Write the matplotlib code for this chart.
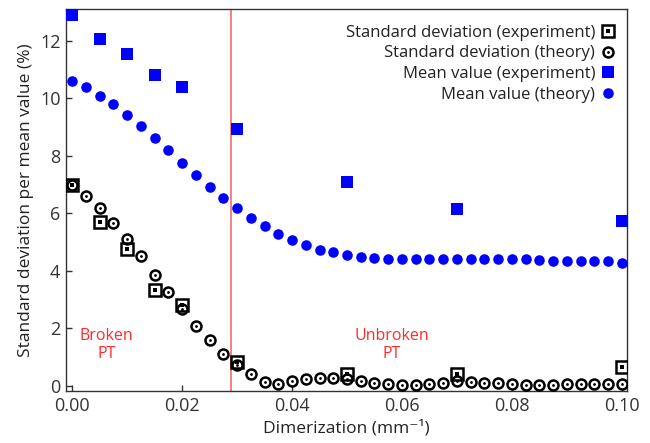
import matplotlib
matplotlib.use('Agg')
import matplotlib.pyplot as plt

plt.rcParams['font.family'] = ['Open Sans', 'DejaVu Sans']

# experiment points
x_exp = [0.0, 0.005, 0.01, 0.015, 0.02, 0.03, 0.05, 0.07, 0.1]
mean_exp = [12.9, 12.08, 11.56, 10.82, 10.4, 8.95, 7.1, 6.14, 5.73]
std_exp = [7.0, 5.70, 4.77, 3.32, 2.81, 0.84, 0.40, 0.40, 0.65]

# theory points, every 0.0025
x_th = [i * 0.0025 for i in range(41)]
mean_th = [10.59, 10.39, 10.10, 9.79, 9.43, 9.03, 8.63, 8.19, 7.76, 7.33,
           6.92, 6.54, 6.17, 5.84, 5.57, 5.29, 5.07, 4.89, 4.74, 4.64,
           4.55, 4.48, 4.43, 4.42, 4.41, 4.41, 4.41, 4.41, 4.41, 4.41,
           4.41, 4.41, 4.41, 4.40, 4.38, 4.36, 4.36, 4.34, 4.33, 4.33, 4.29]
std_th = [6.98, 6.61, 6.19, 5.68, 5.11, 4.51, 3.87, 3.27, 2.66, 2.08,
          1.58, 1.11, 0.71, 0.41, 0.15, 0.05, 0.16, 0.24, 0.28, 0.26,
          0.25, 0.17, 0.10, 0.07, 0.02, 0.04, 0.07, 0.10, 0.16, 0.13,
          0.10, 0.09, 0.06, 0.04, 0.02, 0.02, 0.05, 0.06, 0.07, 0.07, 0.06]

pt_boundary = 0.0289

fig = plt.figure(figsize=(6.5, 4.43), dpi=100)
ax = fig.add_axes([0.1015, 0.1174, 0.863, 0.8616])

ax.axvline(pt_boundary, color='#f07878', lw=1.3, zorder=1)

blue = '#0000ff'
h_mexp, = ax.plot(x_exp, mean_exp, 's', color=blue, ms=8, mew=0, zorder=3)
h_mth, = ax.plot(x_th, mean_th, 'o', color=blue, ms=7.6, mew=0, zorder=3)

h_sth1, = ax.plot(x_th, std_th, 'o', mfc='white', mec='black', ms=7.2, mew=1.8, zorder=3)
h_sth2, = ax.plot(x_th, std_th, 'o', color='black', ms=2, mew=0, zorder=4)
h_sexp1, = ax.plot(x_exp, std_exp, 's', mfc='none', mec='black', ms=8, mew=1.8, zorder=5)
h_sexp2, = ax.plot(x_exp, std_exp, 's', color='black', ms=2.2, mew=0, zorder=5)

leg = ax.legend([(h_sexp1, h_sexp2), (h_sth1, h_sth2), h_mexp, h_mth],
                ['Standard deviation (experiment)', 'Standard deviation (theory)',
                 'Mean value (experiment)', 'Mean value (theory)'],
                loc='upper right', frameon=False, markerfirst=False,
                fontsize=12, handlelength=0.7, handletextpad=0.4,
                labelspacing=0.28, borderaxespad=0.3,
                bbox_to_anchor=(0.997, 0.99))
for t in leg.get_texts():
    t.set_ha('right')
    t.set_color('#222222')
leg._legend_box.align = 'right'

ax.text(0.0063, 1.42, 'Broken\nPT', color='#ff2a2a', fontsize=11.5,
        ha='center', va='center', linespacing=1.2)
ax.text(0.0581, 1.42, 'Unbroken\nPT', color='#ff2a2a', fontsize=11.5,
        ha='center', va='center', linespacing=1.2)

ax.set_xlim(-0.0011, 0.1009)
ax.set_ylim(-0.18, 13.1)
ax.set_xticks([0.0, 0.02, 0.04, 0.06, 0.08, 0.10])
ax.set_xticklabels(['0.00', '0.02', '0.04', '0.06', '0.08', '0.10'])
ax.set_yticks([0, 2, 4, 6, 8, 10, 12])
ax.tick_params(direction='in', length=4, width=1, labelsize=13,
               colors='#333333', labelcolor='#333333', pad=4)
for s in ax.spines.values():
    s.set_color('#333333')
    s.set_linewidth(1)

ax.set_xlabel('Dimerization (mm\u207b\u00b9)', fontsize=12.5, color='#222222', labelpad=4)
ax.set_ylabel('Standard deviation per mean value (%)', fontsize=12.5, color='#222222', labelpad=4)

fig.savefig('out.png', dpi=100)
